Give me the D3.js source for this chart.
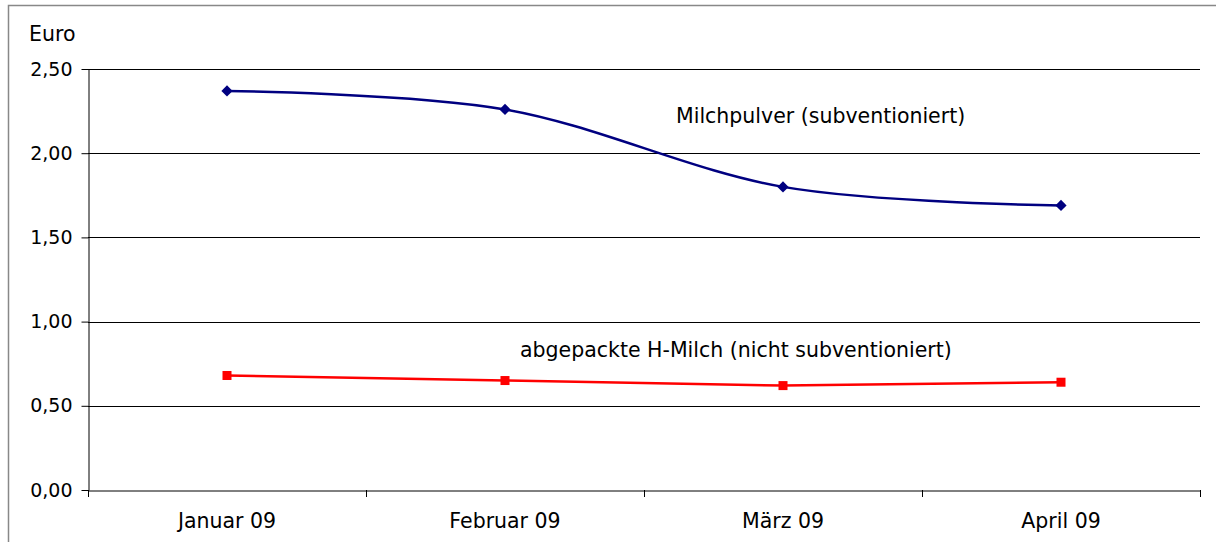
<!DOCTYPE html>
<html><head><meta charset="utf-8">
<script src="https://cdn.jsdelivr.net/npm/d3@7"></script>
<style>body{margin:0;background:#fff;} svg{display:block;}</style>
</head><body>
<svg id="c" width="1216" height="542"></svg>
<script>
const categories = ["Januar 09", "Februar 09", "März 09", "April 09"];
const milchpulver = [2.37, 2.26, 1.80, 1.69];
const hMilch = [0.68, 0.65, 0.62, 0.64];
const yTicks = [0, 0.5, 1.0, 1.5, 2.0, 2.5];
const seriesNames = ["Milchpulver (subventioniert)", "abgepackte H-Milch (nicht subventioniert)"];

const svg = d3.select("#c");
const font = "DejaVu Sans";
const FS = 20.5;
const L = 88, R = 1200, T = 69, B = 490;

svg.append("rect").attr("x", 8.5).attr("y", 5.5).attr("width", 1220).attr("height", 560)
  .attr("fill", "none").attr("stroke", "#888").attr("stroke-width", 1.5);

const x = d3.scaleBand().domain(categories).range([L, R]).padding(0);
const y = d3.scaleLinear().domain([0, 2.5]).range([B, T]);

// gridlines
svg.append("g").selectAll("line").data(yTicks.filter(d => d > 0)).join("line")
  .attr("x1", L).attr("x2", R).attr("y1", d => Math.round(y(d)) + 0.5).attr("y2", d => Math.round(y(d)) + 0.5)
  .attr("stroke", "#000").attr("stroke-width", 1);

const fmt = d => d3.format(".2f")(d).replace(".", ",");
const yAxis = svg.append("g").attr("transform", `translate(${L + 0.5},0)`)
  .call(d3.axisLeft(y).tickValues(yTicks).tickFormat(fmt).tickSize(7).tickSizeOuter(0));
yAxis.select(".domain").attr("stroke", "#000");
yAxis.selectAll(".tick line").attr("stroke", "#000");
yAxis.selectAll(".tick text").attr("font-family", font).attr("font-size", 19).attr("fill", "#000").attr("x", -16);

const xAxis = svg.append("g").attr("transform", `translate(0,${B + 0.5})`)
  .call(d3.axisBottom(x).tickSize(0).tickSizeOuter(0));
xAxis.select(".domain").attr("stroke", "#000");
xAxis.selectAll(".tick text").attr("font-family", font).attr("font-size", FS).attr("fill", "#000").attr("y", 37.5).attr("dy", 0);
// category boundary ticks
const bounds = categories.map(c => x(c)).concat([R]);
svg.append("g").selectAll("line").data(bounds).join("line")
  .attr("x1", d => Math.round(d) + 0.5).attr("x2", d => Math.round(d) + 0.5)
  .attr("y1", B).attr("y2", B + 7).attr("stroke", "#000");

svg.append("text").attr("x", 29).attr("y", 41).attr("font-family", font).attr("font-size", FS).text("Euro");

const cx = c => x(c) + x.bandwidth() / 2;
const line = d3.line().x((d, i) => cx(categories[i])).y(d => y(d)).curve(d3.curveCatmullRom.alpha(0));

svg.append("path").datum(milchpulver).attr("d", line).attr("fill", "none").attr("stroke", "#000080").attr("stroke-width", 2.5);
svg.append("path").datum(hMilch).attr("d", d3.line().x((d, i) => cx(categories[i])).y(d => y(d))).attr("fill", "none").attr("stroke", "#ff0000").attr("stroke-width", 2.5);

svg.append("g").selectAll("path").data(milchpulver).join("path")
  .attr("transform", (d, i) => `translate(${cx(categories[i])},${y(d)})`)
  .attr("d", d3.symbol(d3.symbolDiamond2, 80)).attr("fill", "#000080");
svg.append("g").selectAll("rect").data(hMilch).join("rect")
  .attr("x", (d, i) => cx(categories[i]) - 4.5).attr("y", d => y(d) - 4.5)
  .attr("width", 9).attr("height", 9).attr("fill", "#ff0000");

svg.append("text").attr("x", 676).attr("y", 123).attr("font-family", font).attr("font-size", FS).text(seriesNames[0]);
svg.append("text").attr("x", 520).attr("y", 357).attr("font-family", font).attr("font-size", FS).text(seriesNames[1]);
</script>
</body></html>
